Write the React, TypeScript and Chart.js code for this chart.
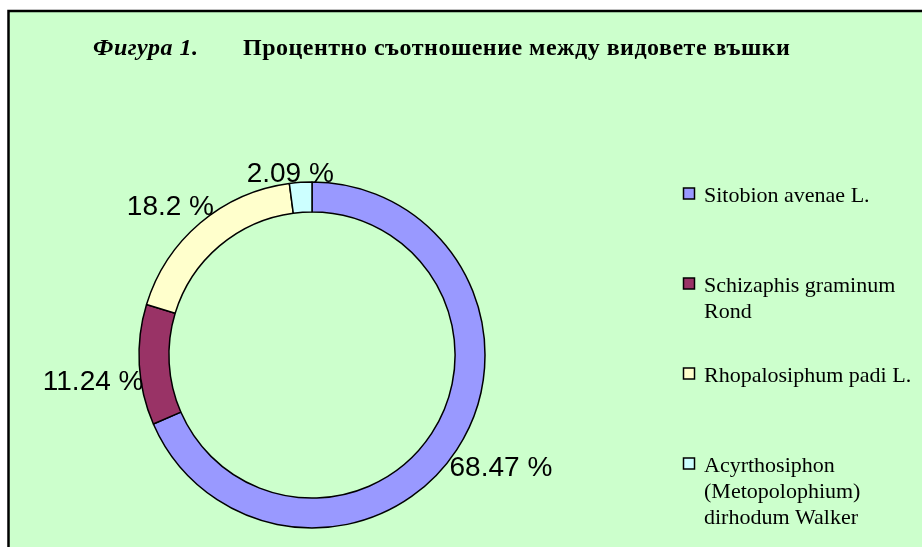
import React, { useEffect, useRef } from "react";
import { Chart, registerables } from "chart.js";

Chart.register(...registerables);

const titlePrefix = "Фигура 1.";
const titleText = "Процентно съотношение между видовете въшки";
const categories = [
  "Sitobion avenae L.",
  "Schizaphis graminum Rond",
  "Rhopalosiphum padi L.",
  "Acyrthosiphon (Metopolophium) dirhodum Walker",
];
const values = [68.47, 11.24, 18.2, 2.09];
const colors = ["#9999FF", "#993366", "#FFFFCC", "#CCFFFF"];

const BG = "#CCFFCC";
const SERIF = "'Liberation Serif', 'Times New Roman', serif";
const SANS = "'Liberation Sans', Arial, sans-serif";

function wrapText(ctx: CanvasRenderingContext2D, text: string, maxW: number): string[] {
  const words = text.split(" ");
  const lines: string[] = [];
  let cur = "";
  for (const w of words) {
    const t = cur ? cur + " " + w : w;
    if (ctx.measureText(t).width > maxW && cur) {
      lines.push(cur);
      cur = w;
    } else cur = t;
  }
  if (cur) lines.push(cur);
  return lines;
}

const framePlugin = {
  id: "frame",
  beforeDraw(chart: any) {
    const ctx = chart.ctx as CanvasRenderingContext2D;
    ctx.save();
    ctx.fillStyle = "#FFFFFF";
    ctx.fillRect(0, 0, chart.width, chart.height);
    ctx.fillStyle = BG;
    ctx.fillRect(8, 10, chart.width, chart.height);
    ctx.strokeStyle = "#000";
    ctx.lineWidth = 2.5;
    ctx.strokeRect(8.5, 11, chart.width + 10, chart.height + 10);
    ctx.restore();
  },
};

const decorPlugin = {
  id: "decor",
  afterDatasetsDraw(chart: any) {
    const ctx = chart.ctx as CanvasRenderingContext2D;
    const meta = chart.getDatasetMeta(0);
    ctx.save();
    // data labels
    ctx.font = `28px ${SANS}`;
    ctx.fillStyle = "#000";
    ctx.textAlign = "center";
    ctx.textBaseline = "middle";
    const shift = (-3 * Math.PI) / 180;
    meta.data.forEach((arc: any, i: number) => {
      const txt = `${values[i]} %`;
      const w = ctx.measureText(txt).width;
      const h = 21;
      const mid = (arc.startAngle + arc.endAngle) / 2 + shift;
      const dx = Math.cos(mid);
      const dy = Math.sin(mid);
      const d = arc.outerRadius - 4 + Math.abs(dx) * (w / 2) + Math.abs(dy) * (h / 2);
      ctx.fillText(txt, arc.x + dx * d, arc.y + dy * d + 3);
    });

    // title
    ctx.textAlign = "left";
    ctx.textBaseline = "alphabetic";
    (ctx as any).letterSpacing = "0.5px";
    ctx.font = `italic bold 24px ${SERIF}`;
    ctx.fillText(titlePrefix, 93, 55);
    ctx.font = `bold 24px ${SERIF}`;
    ctx.fillText(titleText, 243, 55);
    (ctx as any).letterSpacing = "0px";

    // legend
    ctx.font = `22px ${SERIF}`;
    categories.forEach((c, i) => {
      const base = 202 + i * 90;
      ctx.fillStyle = colors[i];
      ctx.fillRect(683.5, base - 14, 11, 11);
      ctx.strokeStyle = "#000";
      ctx.lineWidth = 1.5;
      ctx.strokeRect(683.5, base - 14, 11, 11);
      ctx.fillStyle = "#000";
      const lines = wrapText(ctx, c, 212);
      lines.forEach((ln, j) => ctx.fillText(ln, 704, base + j * 26));
    });
    ctx.restore();
  },
};

export default function App() {
  const ref = useRef<HTMLCanvasElement | null>(null);
  useEffect(() => {
    if (!ref.current) return;
    const chart = new Chart(ref.current, {
      type: "doughnut",
      data: {
        labels: categories,
        datasets: [
          {
            data: values,
            backgroundColor: colors,
            borderColor: "#000000",
            borderWidth: 1.5,
            hoverOffset: 0,
            offset: 0,
          },
        ],
      },
      options: {
        responsive: false,
        animation: false,
        events: [],
        radius: 173,
        cutout: "82.7%",
        rotation: 0,
        layout: { padding: { left: 132, right: 430, top: 175, bottom: 12 } },
        plugins: {
          legend: { display: false },
          title: { display: false },
          tooltip: { enabled: false },
        },
      },
      plugins: [framePlugin, decorPlugin],
    } as any);
    return () => chart.destroy();
  }, []);
  return (
    <div style={{ position: "fixed", left: 0, top: 0, width: 922, height: 547 }}>
      <canvas ref={ref} width={922} height={547} style={{ display: "block" }} />
    </div>
  );
}
